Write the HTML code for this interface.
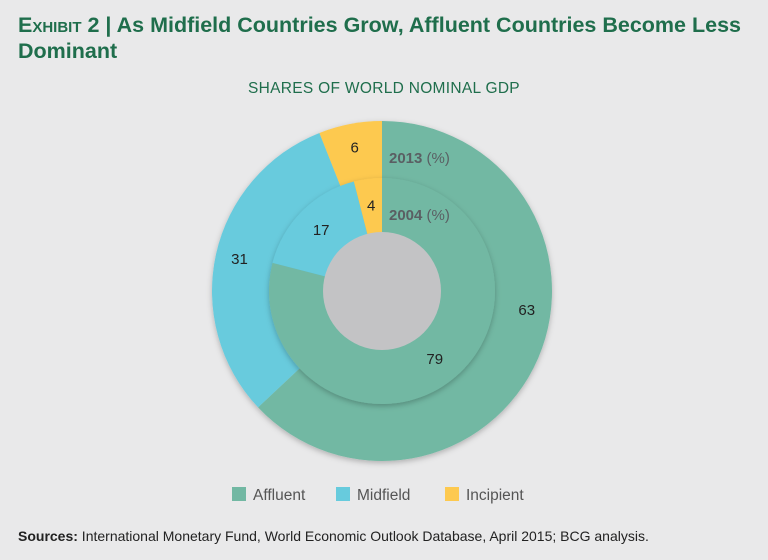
<!DOCTYPE html>
<html><head><meta charset="utf-8">
<style>
body{margin:0;width:768px;height:560px;background:#e9e9ea;font-family:"Liberation Sans",sans-serif;position:relative;overflow:hidden}
#title{position:absolute;left:18px;top:12px;font-size:21.5px;font-weight:bold;color:#1f6e4c;line-height:26px;width:750px}
#sub{position:absolute;left:0;width:768px;top:80px;text-align:center;font-size:15.5px;color:#1f6e4c;letter-spacing:0.3px}
#src{position:absolute;left:18px;top:528px;font-size:14px;color:#222}
svg{position:absolute;left:0;top:0}
</style></head><body>
<div id="title"><span style="font-variant:small-caps">Exhibit 2</span> | As Midfield Countries Grow, Affluent Countries Become Less Dominant</div>
<div id="sub">SHARES OF WORLD NOMINAL GDP</div>
<svg id="chart" width="768" height="560">
<defs><filter id="sh" x="-20%" y="-20%" width="140%" height="140%"><feDropShadow dx="0" dy="2" stdDeviation="3" flood-opacity="0.25"/></filter></defs>
</svg>
<div id="src"><b>Sources:</b> International Monetary Fund, World Economic Outlook Database, April 2015; BCG analysis.</div>
<script>
const categories=["Affluent","Midfield","Incipient"];
const values2013=[63,31,6];
const values2004=[79,17,4];
const colors=["#72b8a3","#67cbdd","#fdc94f"];
const svg=document.getElementById('chart');
const NS="http://www.w3.org/2000/svg";
const cx=382,cy=291;
function pt(a,r){return [cx+r*Math.sin(a),cy-r*Math.cos(a)];}
function mk(t,at){const e=document.createElementNS(NS,t);for(const k in at)e.setAttribute(k,at[k]);svg.appendChild(e);return e;}
function ring(vals,R,r0,labR,name,bigFrac){
  const tot=vals.reduce((a,b)=>a+b,0);let s=0;
  const g=document.createElementNS(NS,'g');g.setAttribute('filter','url(#sh)');svg.appendChild(g);
  vals.forEach((v,i)=>{
    const a0=s/tot*2*Math.PI,a1=(s+v)/tot*2*Math.PI;s+=v;
    const [x0,y0]=pt(a0,R),[x1,y1]=pt(a1,R);const lg=(a1-a0)>Math.PI?1:0;
    const p=document.createElementNS(NS,'path');
    p.setAttribute('d',`M${cx},${cy}L${x0},${y0}A${R},${R} 0 ${lg} 1 ${x1},${y1}Z`);
    p.setAttribute('fill',colors[i]);
    
    
    g.appendChild(p);
    let am=(a0+a1)/2;
    if((a1-a0)>Math.PI) am=a0+(a1-a0)*bigFrac;
    const [lx,ly]=pt(am,labR);
    const t=mk('text',{x:lx,y:ly+5,'text-anchor':'middle','font-size':15,fill:'#222'});
    t.textContent=v;
    
    
  });
}
ring(values2013,170,113,146,'ring-2013',0.43);
ring(values2004,113,59,86,'ring-2004',0.5);
const c=mk('circle',{cx:cx,cy:cy,r:59,fill:'#c3c3c5'});


const t1=mk('text',{x:389,y:163,'font-size':15,fill:'#5a5f63','font-weight':'bold'});t1.innerHTML='2013 <tspan font-weight="normal">(%)</tspan>';


const t2=mk('text',{x:389,y:220,'font-size':15,fill:'#5a5f63','font-weight':'bold'});t2.innerHTML='2004 <tspan font-weight="normal">(%)</tspan>';


const lx=[232,336,445];
categories.forEach((cat,i)=>{
  const r=mk('rect',{x:lx[i],y:487,width:14,height:14,fill:colors[i]});
  
  
  const t=mk('text',{x:lx[i]+21,y:500,'font-size':15.5,fill:'#555'});t.textContent=cat;
  
  
});
</script>
</body></html>
